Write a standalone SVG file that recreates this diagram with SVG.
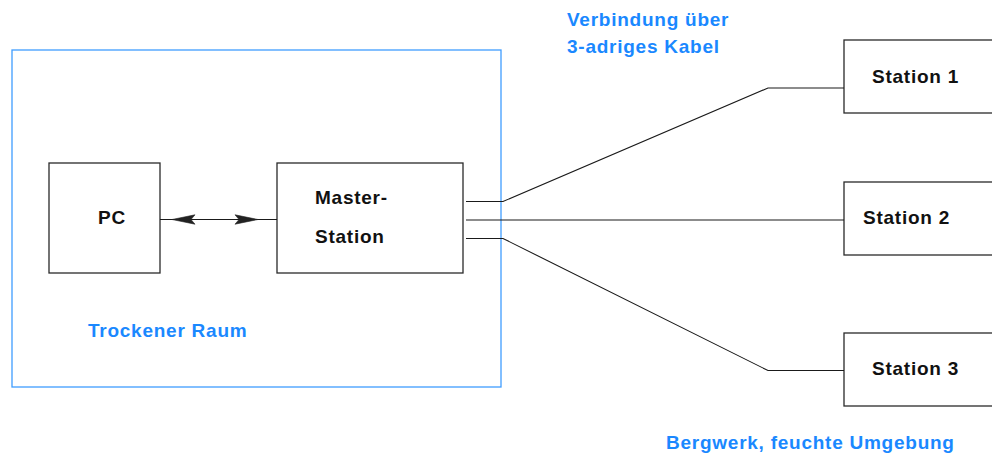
<svg xmlns="http://www.w3.org/2000/svg" width="992" height="457" viewBox="0 0 992 457">
  <defs>
    <style>
      .box { fill: #ffffff; stroke: #2a2a2a; stroke-width: 1.3; }
      .room { fill: none; stroke: #3f9dff; stroke-width: 1.3; }
      .wire { fill: none; stroke: #1a1a1a; stroke-width: 1.1; }
      .label { font-family: "Liberation Sans", Arial, sans-serif; font-weight: bold; font-size: 19px; letter-spacing: 0.75px; fill: #111111; }
      .note { font-family: "Liberation Sans", Arial, sans-serif; font-weight: bold; font-size: 19px; letter-spacing: 0.75px; fill: #1a88ff; }
      .head { fill: #222222; stroke: #222222; stroke-width: 0.6; }
    </style>
    <!-- barbed arrowhead pointing right, tip at origin -->
    <path id="arrowhead" class="head" d="M0,0 L-23,-4.7 L-19,0 L-23,4.7 Z"/>
  </defs>

  <!-- dry room enclosure -->
  <g id="room">
    <rect class="room" x="12" y="50" width="489" height="337"/>
    <text class="note" x="88" y="337">Trockener Raum</text>
  </g>

  <g id="pc">
    <rect class="box" x="49" y="163" width="111" height="110"/>
    <text class="label" x="98" y="224">PC</text>
  </g>

  <g id="master">
    <rect class="box" x="277" y="163" width="186" height="110"/>
    <text class="label" x="315" y="204">Master-</text>
    <text class="label" x="315" y="243">Station</text>
  </g>

  <g id="station1">
    <rect class="box" x="844" y="40" width="160" height="73"/>
    <text class="label" x="872" y="83">Station 1</text>
  </g>

  <g id="station2">
    <rect class="box" x="844" y="182" width="160" height="73"/>
    <text class="label" x="863" y="224">Station 2</text>
  </g>

  <g id="station3">
    <rect class="box" x="844" y="333" width="160" height="73"/>
    <text class="label" x="872" y="375">Station 3</text>
  </g>

  <g id="notes">
    <text class="note" x="567" y="26">Verbindung über</text>
    <text class="note" x="567" y="53">3-adriges Kabel</text>
    <text class="note" x="666" y="449">Bergwerk, feuchte Umgebung</text>
  </g>

  <!-- connectors -->
  <g id="connectors">
    <line class="wire" x1="160" y1="219.5" x2="277" y2="219.5"/>
    <use href="#arrowhead" transform="translate(172,219.5) rotate(180)"/>
    <use href="#arrowhead" transform="translate(258,219.5)"/>
    <polyline class="wire" points="466,201.5 503,201.5 768,88 844,88"/>
    <line class="wire" x1="466" y1="220" x2="844" y2="220"/>
    <polyline class="wire" points="466,238.5 503,238.5 768,370.5 844,370.5"/>
  </g>
</svg>
